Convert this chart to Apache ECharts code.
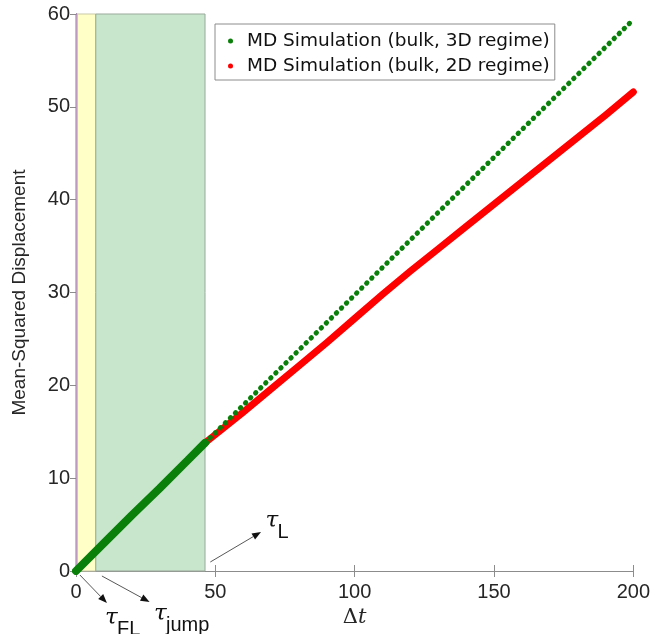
<!DOCTYPE html>
<html>
<head>
<meta charset="utf-8">
<script src="https://cdn.jsdelivr.net/npm/echarts@6/dist/echarts.min.js"></script>
<style>
  html, body { margin: 0; padding: 0; background: #fff; }
  #chart { width: 653px; height: 634px; }
</style>
</head>
<body>
<div id="chart"></div>
<script>
// data
const bulk3dX = [0, 10, 20, 30, 40, 46.3];
const bulk3dY = [0, 3.0, 6.0, 8.9, 11.9, 13.8];
const fit3dX = [46.3, 200];
const fit3dY = [13.8, 59.4];
const bulk2dX = [46.3, 60, 70, 80, 90, 100, 110, 120, 130, 140, 150, 160, 170, 180, 190, 200];
const bulk2dY = [13.8, 17.1, 19.6, 22.1, 24.6, 27.2, 29.8, 32.3, 34.7, 37.1, 39.5, 41.9, 44.3, 46.7, 49.1, 51.6];
const bandStart = [0, 0.55, 7.1];
const bandEnd = [0.55, 7.1, 46.3];
const seriesNames = ['MD Simulation (bulk, 3D regime)', 'MD Simulation (bulk, 2D regime)'];

const SANS = '"Liberation Sans", Arial, sans-serif';
const AXIS_GREY = '#8c8c8c';
const TEXT = '#262626';
const GREEN = '#0a800a';
const RED = '#ff0000';
const bandFill = ['#dcc3df', '#ffffc8', '#c7e6cc'];
const bandBorder = ['#9b72a3', '#c9c9a8', '#9aa99c'];

const zip = (xs, ys) => xs.map((x, i) => [x, ys[i]]);

const chart = echarts.init(document.getElementById('chart'));

const boxAxis = (extra) => Object.assign({
  type: 'value',
  axisLine: { show: true, lineStyle: { color: AXIS_GREY, width: 1 } },
  axisTick: { show: true, inside: true, length: 6, lineStyle: { color: AXIS_GREY } },
  splitLine: { show: false },
}, extra);

chart.setOption({
  animation: false,
  backgroundColor: '#fff',
  grid: { left: 76, right: 17, top: 14, bottom: 63 },
  legend: {
    orient: 'vertical',
    left: 215,
    top: 24,
    data: seriesNames.map(n => ({ name: n, icon: 'circle' })),
    itemWidth: 5,
    itemHeight: 5,
    itemGap: 5,
    padding: [7, 5, 4, 13],
    borderColor: '#8c8c8c',
    borderWidth: 1,
    backgroundColor: '#fff',
    textStyle: { fontFamily: '"DejaVu Sans", sans-serif', fontSize: 18.5, color: '#111', lineHeight: 20, padding: [0, 0, 0, 9] },
  },
  xAxis: [
    boxAxis({
      min: 0, max: 200, interval: 50,
      name: '{d|Δ}{t|t}',
      nameLocation: 'middle',
      nameGap: 19,
      nameTextStyle: {
        verticalAlign: 'top',
        rich: {
          d: { fontFamily: '"DejaVu Serif", serif', fontSize: 21, color: TEXT },
          t: { fontFamily: '"DejaVu Serif", serif', fontStyle: 'italic', fontSize: 21, color: TEXT },
        },
      },
      axisLabel: { fontFamily: SANS, fontSize: 20, color: TEXT, margin: 11 },
    }),
    boxAxis({ min: 0, max: 200, interval: 50, position: 'top', axisLabel: { show: false } }),
  ],
  yAxis: [
    boxAxis({
      min: 0, max: 60, interval: 10,
      name: 'Mean-Squared Displacement',
      nameLocation: 'middle',
      nameGap: 47,
      nameTextStyle: { fontFamily: SANS, fontSize: 19, color: TEXT },
      axisLabel: { fontFamily: SANS, fontSize: 20, color: TEXT, margin: 6 },
    }),
    boxAxis({ min: 0, max: 60, interval: 10, position: 'right', axisLabel: { show: false } }),
  ],
  series: [
    {
      type: 'line',
      name: 'bands',
      data: [],
      silent: true,
      markArea: {
        silent: true,
        data: bandStart.map((s, i) => [
          { xAxis: s, itemStyle: { color: bandFill[i], borderColor: bandBorder[i], borderWidth: 1 } },
          { xAxis: bandEnd[i] },
        ]),
      },
    },
    {
      type: 'line',
      name: seriesNames[1],
      data: zip(bulk2dX, bulk2dY),
      showSymbol: false,
      color: RED,
      lineStyle: { color: RED, width: 7, cap: 'round', join: 'round' },
      z: 3,
    },
    {
      type: 'line',
      name: 'fit3d',
      data: zip(fit3dX, fit3dY),
      showSymbol: false,
      lineStyle: { color: GREEN, width: 5, type: [0.5, 6.6], cap: 'round' },
      z: 4,
    },
    {
      type: 'line',
      name: seriesNames[0],
      data: zip(bulk3dX, bulk3dY),
      showSymbol: false,
      color: GREEN,
      lineStyle: { color: GREEN, width: 8, cap: 'round' },
      z: 5,
    },
  ],
});

// annotation arrows and tau labels, placed in data units (below / beside the axes)
const arrows = [
  { from: [1.4, -0.43], to: [11.1, -3.45] },
  { from: [9.3, -0.54], to: [26.4, -3.34] },
  { from: [48.2, 0.97], to: [66.4, 4.2] },
];
const tauLabels = [
  { at: [10.4, -4.3], sub: 'FL' },
  { at: [28.0, -3.8], sub: 'jump' },
  { at: [68.0, 6.2], sub: 'L' },
];

const px = p => chart.convertToPixel({ gridIndex: 0 }, p);
const graphics = [];
arrows.forEach(a => {
  const [x1, y1] = px(a.from);
  const [x2, y2] = px(a.to);
  const ang = Math.atan2(y2 - y1, x2 - x1);
  const L = 9, W = 3.5;
  const bx = x2 - L * Math.cos(ang), by = y2 - L * Math.sin(ang);
  graphics.push({
    type: 'line', silent: true,
    shape: { x1, y1, x2: bx, y2: by },
    style: { stroke: '#444', lineWidth: 0.9 },
  });
  graphics.push({
    type: 'polygon', silent: true,
    shape: { points: [
      [x2, y2],
      [bx + W * Math.sin(ang), by - W * Math.cos(ang)],
      [bx - W * Math.sin(ang), by + W * Math.cos(ang)],
    ] },
    style: { fill: '#111' },
  });
});
tauLabels.forEach(t => {
  const [x, y] = px(t.at);
  graphics.push({
    type: 'text', silent: true, x, y: y - 4,
    style: { text: 'τ', font: 'italic 23px "DejaVu Serif", serif', fill: '#111', verticalAlign: 'top' },
  });
  graphics.push({
    type: 'text', silent: true, x: x + 12, y: y + 9,
    style: { text: t.sub, font: '20px ' + SANS, fill: '#111', verticalAlign: 'top' },
  });
});
chart.setOption({ graphic: graphics });
</script>
</body>
</html>
